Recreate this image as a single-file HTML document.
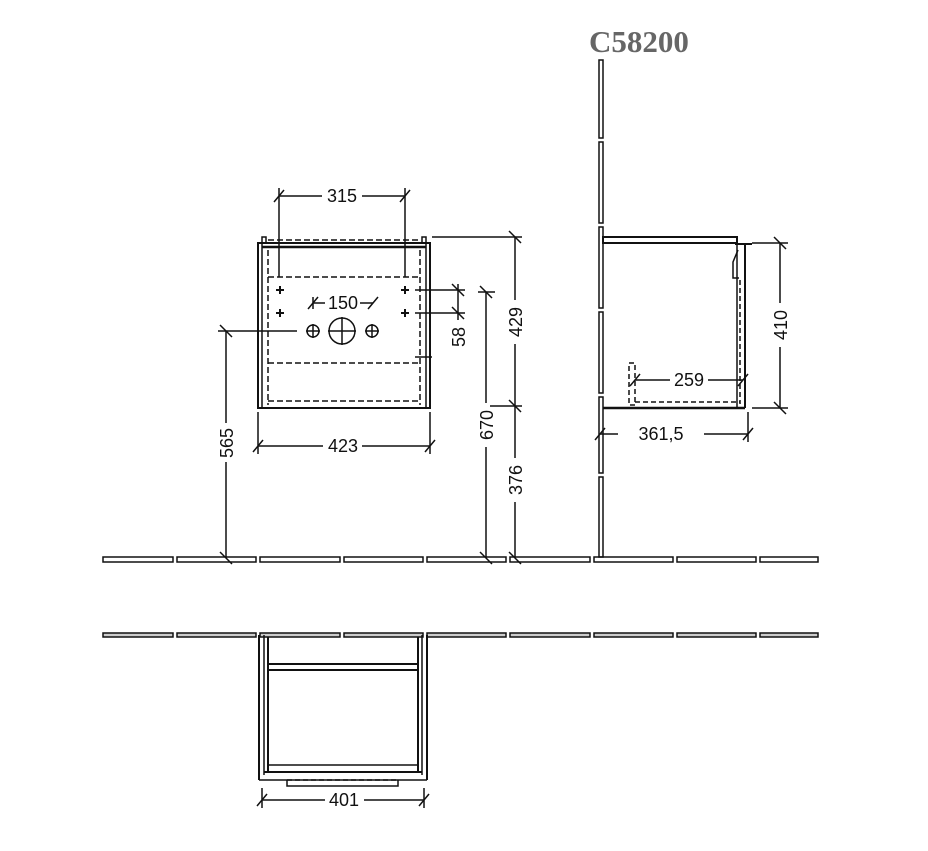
<!DOCTYPE html>
<html><head><meta charset="utf-8"><style>
html,body{margin:0;padding:0;background:#fff;}
svg{display:block;}
text{font-family:"Liberation Sans",sans-serif;font-size:18px;fill:#111;}
</style></head><body>
<svg width="928" height="851" viewBox="0 0 928 851" xmlns="http://www.w3.org/2000/svg">
<rect width="928" height="851" fill="#fff"/>
<text x="589" y="52" style="font-family:'Liberation Serif',serif;font-size:31px;font-weight:bold;fill:#666">C58200</text>
<g stroke="#111" fill="none" stroke-width="1.5">
<!-- upper wall -->
<rect x="103" y="557" width="70" height="5"/><rect x="177" y="557" width="79" height="5"/><rect x="260" y="557" width="80" height="5"/><rect x="344" y="557" width="79" height="5"/><rect x="427" y="557" width="79" height="5"/><rect x="510" y="557" width="80" height="5"/><rect x="594" y="557" width="79" height="5"/><rect x="677" y="557" width="79" height="5"/><rect x="760" y="557" width="58" height="5"/>
<!-- lower wall -->
<g fill="#ccc">
<rect x="103" y="633" width="70" height="4"/><rect x="177" y="633" width="79" height="4"/><rect x="260" y="633" width="80" height="4"/><rect x="344" y="633" width="79" height="4"/><rect x="427" y="633" width="79" height="4"/><rect x="510" y="633" width="80" height="4"/><rect x="594" y="633" width="79" height="4"/><rect x="677" y="633" width="79" height="4"/><rect x="760" y="633" width="58" height="4"/>
</g>
<!-- vertical wall -->
<rect x="599" y="60" width="4" height="78"/><rect x="599" y="142" width="4" height="81"/><rect x="599" y="227" width="4" height="81"/><rect x="599" y="312" width="4" height="81"/><rect x="599" y="397" width="4" height="76"/><rect x="599" y="477" width="4" height="80"/>

<!-- front cabinet -->
<rect x="258" y="243" width="172" height="165" stroke-width="2"/>
<line x1="262" y1="243" x2="262" y2="408"/><line x1="426" y1="243" x2="426" y2="408"/>
<rect x="262" y="237" width="4" height="6"/><rect x="422" y="237" width="4" height="6"/>
<line x1="262" y1="247" x2="426" y2="247" stroke-width="2.5"/>
<g stroke-dasharray="6,3">
<line x1="268" y1="240" x2="420" y2="240"/>
<line x1="268" y1="250" x2="268" y2="405"/><line x1="420" y1="250" x2="420" y2="405"/>
<line x1="268" y1="277" x2="420" y2="277"/><line x1="268" y1="363" x2="420" y2="363"/><line x1="268" y1="401" x2="420" y2="401"/>
</g>
<g stroke-width="2">
<line x1="276" y1="290" x2="284" y2="290"/><line x1="280" y1="286" x2="280" y2="294"/>
<line x1="276" y1="313" x2="284" y2="313"/><line x1="280" y1="309" x2="280" y2="317"/>
<line x1="401" y1="290" x2="409" y2="290"/><line x1="405" y1="286" x2="405" y2="294"/>
<line x1="401" y1="313" x2="409" y2="313"/><line x1="405" y1="309" x2="405" y2="317"/>
</g>
<circle cx="342" cy="331" r="13"/><line x1="328" y1="331" x2="356" y2="331"/><line x1="342" y1="317" x2="342" y2="345"/>
<circle cx="313" cy="331" r="6"/><line x1="306" y1="331" x2="320" y2="331"/><line x1="313" y1="324" x2="313" y2="338"/>
<circle cx="372" cy="331" r="6"/><line x1="365" y1="331" x2="379" y2="331"/><line x1="372" y1="324" x2="372" y2="338"/>

<!-- dim 315 -->
<line x1="279" y1="188" x2="279" y2="277"/><line x1="405" y1="188" x2="405" y2="277"/>
<line x1="279" y1="196" x2="322" y2="196"/><line x1="362" y1="196" x2="405" y2="196"/>
<line x1="274" y1="202" x2="284" y2="190"/><line x1="400" y1="202" x2="410" y2="190"/>
<!-- dim 150 -->
<line x1="313" y1="297" x2="313" y2="309"/><line x1="313" y1="303" x2="325" y2="303"/>
<line x1="360" y1="303" x2="373" y2="303"/><line x1="308" y1="309" x2="318" y2="297"/><line x1="368" y1="309" x2="378" y2="297"/>
<!-- dim 423 -->
<line x1="258" y1="412" x2="258" y2="454"/><line x1="430" y1="412" x2="430" y2="454"/>
<line x1="258" y1="446" x2="323" y2="446"/><line x1="362" y1="446" x2="430" y2="446"/>
<line x1="253" y1="452" x2="263" y2="440"/><line x1="425" y1="452" x2="435" y2="440"/>
<!-- dim 565 -->
<line x1="218" y1="331" x2="297" y2="331"/>
<line x1="226" y1="331" x2="226" y2="423"/><line x1="226" y1="462" x2="226" y2="558"/>
<line x1="220" y1="325" x2="232" y2="337"/><line x1="220" y1="552" x2="232" y2="564"/>
<!-- dim 58 -->
<line x1="415" y1="290" x2="465" y2="290"/><line x1="415" y1="313" x2="465" y2="313"/>
<line x1="458" y1="284" x2="458" y2="320"/><line x1="452" y1="284" x2="464" y2="296"/><line x1="452" y1="307" x2="464" y2="319"/>
<line x1="415" y1="357" x2="432" y2="357"/>
<!-- dim 670 -->
<line x1="478" y1="292" x2="495" y2="292"/>
<line x1="486" y1="292" x2="486" y2="403"/><line x1="486" y1="447" x2="486" y2="558"/>
<line x1="480" y1="286" x2="492" y2="298"/><line x1="480" y1="552" x2="492" y2="564"/>
<!-- dim 429/376 -->
<line x1="432" y1="237" x2="522" y2="237"/><line x1="490" y1="406" x2="522" y2="406"/>
<line x1="515" y1="237" x2="515" y2="300"/><line x1="515" y1="344" x2="515" y2="406"/>
<line x1="515" y1="406" x2="515" y2="458"/><line x1="515" y1="502" x2="515" y2="558"/>
<line x1="509" y1="231" x2="521" y2="243"/><line x1="509" y1="400" x2="521" y2="412"/><line x1="509" y1="552" x2="521" y2="564"/>

<!-- side view -->
<rect x="603" y="237" width="134" height="6" stroke-width="2"/>
<line x1="603" y1="408" x2="745" y2="408" stroke-width="2.5"/>
<line x1="737" y1="243" x2="737" y2="408"/><line x1="745" y1="243" x2="745" y2="408" stroke-width="2"/>
<line x1="735" y1="244" x2="752" y2="244" stroke-width="2"/>
<path d="M738 250 L733 262 L733 278 L739 278"/>
<g stroke-dasharray="5,3">
<line x1="740" y1="280" x2="740" y2="404"/>
<line x1="635" y1="402" x2="740" y2="402"/>
<rect x="629" y="363" width="6" height="42"/>
</g>
<!-- 410 -->
<line x1="752" y1="243" x2="788" y2="243"/><line x1="752" y1="408" x2="788" y2="408"/>
<line x1="780" y1="243" x2="780" y2="303"/><line x1="780" y1="347" x2="780" y2="408"/>
<line x1="774" y1="237" x2="786" y2="249"/><line x1="774" y1="402" x2="786" y2="414"/>
<!-- 259 -->
<line x1="635" y1="380" x2="670" y2="380"/><line x1="708" y1="380" x2="743" y2="380"/>
<line x1="630" y1="386" x2="640" y2="374"/><line x1="738" y1="386" x2="748" y2="374"/>
<!-- 361,5 -->
<line x1="748" y1="412" x2="748" y2="442"/>
<line x1="600" y1="434" x2="618" y2="434"/><line x1="704" y1="434" x2="748" y2="434"/>
<line x1="595" y1="440" x2="605" y2="428"/><line x1="743" y1="440" x2="753" y2="428"/>

<!-- plan view -->
<line x1="259" y1="635" x2="259" y2="780" stroke-width="2"/><line x1="427" y1="635" x2="427" y2="780" stroke-width="2"/>
<line x1="264" y1="635" x2="264" y2="775"/><line x1="422" y1="635" x2="422" y2="775"/>
<line x1="268" y1="637" x2="268" y2="772" stroke-width="2"/><line x1="418" y1="637" x2="418" y2="772" stroke-width="2"/>
<line x1="268" y1="664" x2="418" y2="664" stroke-width="2"/><line x1="268" y1="670" x2="418" y2="670" stroke-width="2"/>
<line x1="268" y1="765" x2="418" y2="765"/><line x1="264" y1="772" x2="422" y2="772" stroke-width="2"/>
<line x1="259" y1="780" x2="427" y2="780"/>
<line x1="287" y1="780" x2="398" y2="780" stroke-dasharray="5,3"/>
<path d="M287 780 L287 786 L398 786 L398 780"/>
<!-- 401 -->
<line x1="262" y1="788" x2="262" y2="808"/><line x1="424" y1="788" x2="424" y2="808"/>
<line x1="262" y1="800" x2="325" y2="800"/><line x1="364" y1="800" x2="424" y2="800"/>
<line x1="257" y1="806" x2="267" y2="794"/><line x1="419" y1="806" x2="429" y2="794"/>
</g>
<g>
<text x="342" y="202" text-anchor="middle">315</text>
<text x="343" y="309" text-anchor="middle">150</text>
<text x="343" y="452" text-anchor="middle">423</text>
<text x="344" y="806" text-anchor="middle">401</text>
<text x="689" y="386" text-anchor="middle">259</text>
<text x="661" y="440" text-anchor="middle">361,5</text>
<text transform="translate(233,443) rotate(-90)" text-anchor="middle">565</text>
<text transform="translate(465,337) rotate(-90)" text-anchor="middle">58</text>
<text transform="translate(493,425) rotate(-90)" text-anchor="middle">670</text>
<text transform="translate(522,322) rotate(-90)" text-anchor="middle">429</text>
<text transform="translate(522,480) rotate(-90)" text-anchor="middle">376</text>
<text transform="translate(787,325) rotate(-90)" text-anchor="middle">410</text>
</g>
</svg>
</body></html>
